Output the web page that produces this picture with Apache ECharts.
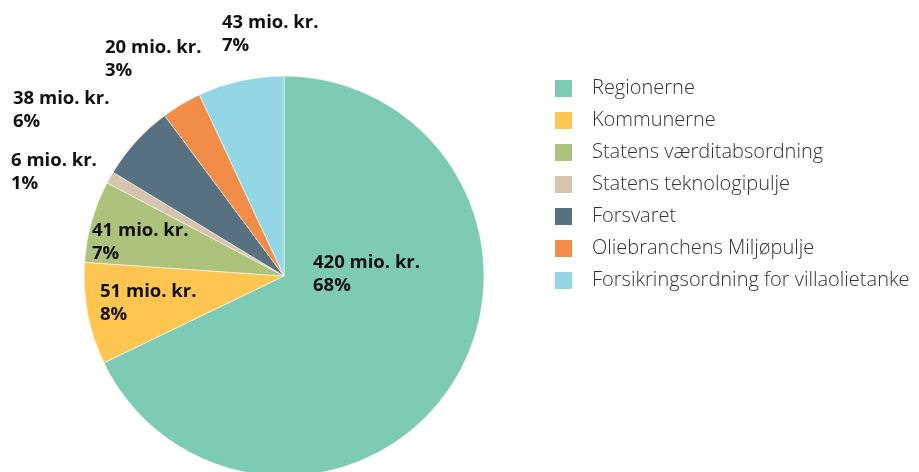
<!DOCTYPE html>
<html>
<head>
<meta charset="utf-8">
<style>
  html, body { margin: 0; padding: 0; background: #fff; }
  #chart { width: 919px; height: 472px; }
</style>
<script src="https://cdn.jsdelivr.net/npm/echarts@6/dist/echarts.min.js"></script>
</head>
<body>
<div id="chart"></div>
<script>
const categories = [
  'Regionerne',
  'Kommunerne',
  'Statens værditabsordning',
  'Statens teknologipulje',
  'Forsvaret',
  'Oliebranchens Miljøpulje',
  'Forsikringsordning for villaolietanke'
];
const amounts = [420, 51, 41, 6, 38, 20, 43];
const colors = ['#7ecbb5', '#fec551', '#adc27a', '#d6c4ad', '#587180', '#f18d48', '#93d6e6'];

// where each label block sits (left edge, vertical middle)
const labelSpots = [
  [313, 274], [100, 303], [92, 242], [11, 172], [13, 110], [105, 59], [222, 34]
];

const chart = echarts.init(document.getElementById('chart'));

chart.setOption({
  animation: false,
  color: colors,
  legend: {
    orient: 'vertical',
    left: 553,
    top: 78,
    padding: 0,
    icon: 'rect',
    itemWidth: 19,
    itemHeight: 19,
    itemGap: 11,
    selectedMode: false,
    textStyle: {
      fontFamily: 'Open Sans',
      fontWeight: 300,
      fontSize: 20,
      lineHeight: 19,
      color: '#333',
      padding: [0, 0, 0, 14]
    },
    data: categories
  },
  series: [{
    type: 'pie',
    center: [284, 276],
    radius: 200,
    startAngle: 90,
    clockwise: true,
    percentPrecision: 0,
    itemStyle: { borderColor: '#fff', borderWidth: 0.6 },
    label: {
      show: true,
      position: 'inside',
      fontFamily: 'Open Sans',
      fontWeight: 'bold',
      fontSize: 18.5,
      lineHeight: 23,
      color: '#111',
      formatter: p => p.value + ' mio. kr.\n' + p.percent + '%'
    },
    labelLine: { show: false },
    labelLayout: p => ({
      x: labelSpots[p.dataIndex][0],
      y: labelSpots[p.dataIndex][1],
      align: 'left',
      verticalAlign: 'middle'
    }),
    emphasis: { disabled: true },
    data: categories.map((name, i) => ({ name, value: amounts[i] }))
  }]
});

window.addEventListener('resize', () => chart.resize());
</script>
</body>
</html>
